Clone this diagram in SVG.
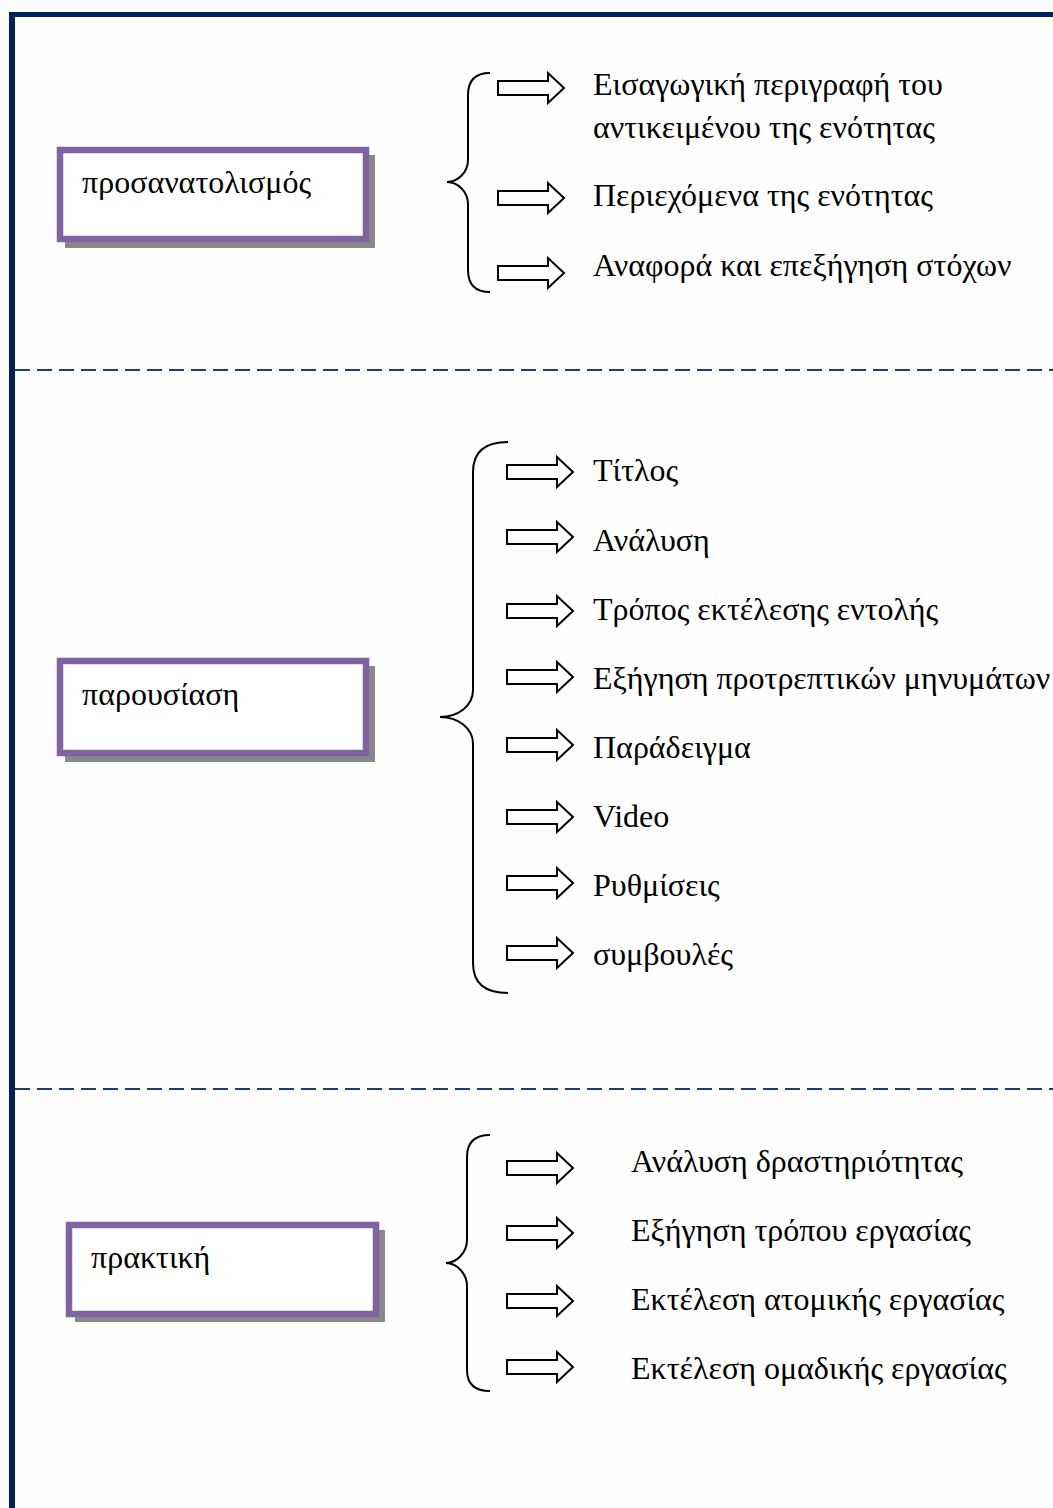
<svg xmlns="http://www.w3.org/2000/svg" width="1053" height="1508" viewBox="0 0 1053 1508">
<style>
.bg{fill:#fdfdfd}
.frame{fill:#002060}
.dash{stroke:#1f3a78;stroke-width:2.2;stroke-dasharray:15 7;fill:none}
.shadow{fill:#888}
.box{fill:#fff;stroke:#8064a2;stroke-width:6.5}
.t{font-family:"Liberation Serif","Times New Roman",serif;font-size:32px;fill:#000}
.brace{fill:none;stroke:#000;stroke-width:2}
.arr{fill:#fff;stroke:#000;stroke-width:2;stroke-linejoin:miter}
</style>
<defs>
<path id="ar" d="M0,-7 L50,-7 L50,-15 L66,0 L50,15 L50,7 L0,7 Z"/>
</defs>
<rect class="bg" x="0" y="0" width="1053" height="1508"/>
<g id="frame">
<rect class="frame" x="9" y="12" width="1044" height="5"/>
<rect class="frame" x="9" y="12" width="6" height="1496"/>
</g>
<g id="separators">
<line class="dash" x1="15" y1="370" x2="1053" y2="370"/>
<line class="dash" x1="15" y1="1089" x2="1053" y2="1089"/>
</g>
<g id="node-prosanatolismos">
<rect class="shadow" x="65" y="155" width="310" height="93"/>
<rect class="box" x="60" y="150" width="306" height="89"/>
<text class="t" x="82" y="193">προσανατολισμός</text>
</g>
<g id="node-parousiasi">
<rect class="shadow" x="65" y="666" width="310" height="96"/>
<rect class="box" x="60" y="661" width="306" height="92"/>
<text class="t" x="82" y="705">παρουσίαση</text>
</g>
<g id="node-praktiki">
<rect class="shadow" x="75" y="1230" width="310" height="92"/>
<rect class="box" x="69" y="1225" width="307" height="89"/>
<text class="t" x="91" y="1268">πρακτική</text>
</g>
<g id="connectors">
<path class="brace" d="M490,73 C475,73 468,80 468,95 L468,160 C468,172 458,182 447,182 C458,182 468,192 468,204 L468,270 C468,285 475,292 490,292"/>
<path class="brace" d="M508,442 C485,442 473,452 473,472 L473,690 C473,706 458,717 440,717 C458,717 473,728 473,744 L473,963 C473,983 485,993 508,993"/>
<path class="brace" d="M490,1135 C475,1135 467,1142 467,1157 L467,1240 C467,1252 457,1263 446,1263 C457,1263 467,1274 467,1286 L467,1370 C467,1384 475,1391 490,1391"/>
<use href="#ar" class="arr" x="498" y="88"/>
<use href="#ar" class="arr" x="498" y="198"/>
<use href="#ar" class="arr" x="498" y="273"/>
<use href="#ar" class="arr" x="507" y="472"/>
<use href="#ar" class="arr" x="507" y="537"/>
<use href="#ar" class="arr" x="507" y="611"/>
<use href="#ar" class="arr" x="507" y="677"/>
<use href="#ar" class="arr" x="507" y="745"/>
<use href="#ar" class="arr" x="507" y="817"/>
<use href="#ar" class="arr" x="507" y="883"/>
<use href="#ar" class="arr" x="507" y="953"/>
<use href="#ar" class="arr" x="507" y="1168"/>
<use href="#ar" class="arr" x="507" y="1233"/>
<use href="#ar" class="arr" x="507" y="1301"/>
<use href="#ar" class="arr" x="507" y="1367"/>
</g>
<g id="labels">
<text class="t" x="593" y="95">Εισαγωγική περιγραφή του</text>
<text class="t" x="593" y="138">αντικειμένου της ενότητας</text>
<text class="t" x="593" y="206">Περιεχόμενα της ενότητας</text>
<text class="t" x="593" y="276">Αναφορά και επεξήγηση στόχων</text>
<text class="t" x="593" y="481">Τίτλος</text>
<text class="t" x="593" y="551">Ανάλυση</text>
<text class="t" x="593" y="620">Τρόπος εκτέλεσης εντολής</text>
<text class="t" x="593" y="689">Εξήγηση προτρεπτικών μηνυμάτων</text>
<text class="t" x="593" y="758">Παράδειγμα</text>
<text class="t" x="593" y="827">Video</text>
<text class="t" x="593" y="896">Ρυθμίσεις</text>
<text class="t" x="593" y="965">συμβουλές</text>
<text class="t" x="631" y="1172">Ανάλυση δραστηριότητας</text>
<text class="t" x="631" y="1241">Εξήγηση τρόπου εργασίας</text>
<text class="t" x="631" y="1310">Εκτέλεση ατομικής εργασίας</text>
<text class="t" x="631" y="1379">Εκτέλεση ομαδικής εργασίας</text>
</g>
</svg>
